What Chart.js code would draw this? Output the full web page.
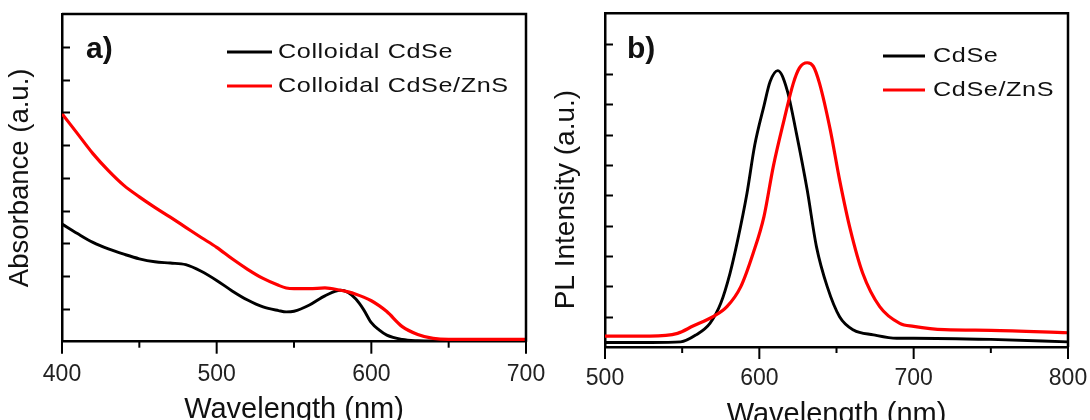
<!DOCTYPE html>
<html>
<head>
<meta charset="utf-8">
<script src="https://cdn.jsdelivr.net/npm/chart.js@4.4.1/dist/chart.umd.min.js"></script>
<style>
  body { margin: 0; background: #fff; }
  #wrap { position: relative; width: 1090px; height: 420px; overflow: hidden; }
  canvas { position: absolute; top: 0; }
</style>
</head>
<body>
<div id="wrap">
  <canvas id="graficoA" width="545" height="440" style="left:0"></canvas>
  <canvas id="graficoB" width="545" height="440" style="left:545px"></canvas>
</div>
<script>
// Panel a) absorbancia
var wavelengthA = [400, 410, 420, 430, 440, 450, 460, 470, 480, 490, 500, 510, 520, 530, 540, 545, 550, 560, 570, 580, 585, 590, 595, 600, 605, 610, 620, 630, 640, 650, 700];
var absCdSe =     [3.59, 3.30, 3.03, 2.83, 2.67, 2.53, 2.44, 2.40, 2.35, 2.15, 1.87, 1.55, 1.27, 1.06, 0.95, 0.91, 0.93, 1.12, 1.40, 1.57, 1.50, 1.30, 0.98, 0.58, 0.36, 0.20, 0.07, 0.03, 0.02, 0.02, 0.02];
var absCdSeZnS =  [6.96, 6.35, 5.74, 5.22, 4.77, 4.42, 4.10, 3.80, 3.49, 3.18, 2.88, 2.53, 2.21, 1.93, 1.72, 1.64, 1.62, 1.62, 1.64, 1.57, 1.52, 1.45, 1.36, 1.25, 1.10, 0.92, 0.46, 0.22, 0.10, 0.07, 0.07];

// Panel b) fotoluminiscencia
var wavelengthPL1 = [500, 530, 549, 559, 568, 575, 581, 586, 592, 597, 603, 607, 612, 618, 624, 631, 637, 644, 652, 661, 674, 689, 700, 750, 800];
var plCdSe =        [0.15, 0.15, 0.17, 0.40, 0.78, 1.44, 2.43, 3.53, 5.07, 6.65, 7.95, 8.75, 9.11, 8.47, 7.05, 5.18, 3.31, 1.99, 1.00, 0.56, 0.40, 0.29, 0.29, 0.25, 0.17];
var wavelengthPL2 = [500, 529, 547, 557, 570, 579, 588, 596, 603, 609, 616, 622, 626, 631, 635, 639, 646, 652, 659, 667, 678, 691, 700, 720, 750, 800];
var plCdSeZnS =     [0.36, 0.36, 0.45, 0.69, 1.00, 1.33, 1.99, 3.09, 4.30, 5.94, 7.48, 8.69, 9.20, 9.37, 9.25, 8.69, 7.15, 5.51, 3.86, 2.43, 1.33, 0.78, 0.68, 0.57, 0.55, 0.47];

var xTicksA = [400, 500, 600, 700];
var xTicksB = [500, 600, 700, 800];

var FUENTE = "'Liberation Sans', Arial, sans-serif";

function puntos(xs, ys) {
    return xs.map(function(x, i) { return { x: x, y: ys[i] }; });
}

// Dibuja marco, marcas de los ejes, etiqueta del panel y leyenda
function pluginPanel(info) {
    return {
        id: 'panel',
        afterDraw: function(chart) {
            var ctx = chart.ctx;
            var area = chart.chartArea;
            var sx = chart.scales.x, sy = chart.scales.y;
            ctx.save();
            ctx.strokeStyle = '#000';
            ctx.lineWidth = 2.5;
            ctx.beginPath();
            ctx.moveTo(area.left, area.top);
            ctx.lineTo(area.right, area.top);
            ctx.lineTo(area.right, area.bottom);
            ctx.stroke();

            // marcas hacia dentro en el eje y
            ctx.lineWidth = 2;
            for (var v = sy.min + 1; v < sy.max; v++) {
                var py = Math.round(sy.getPixelForValue(v)) + 0.5;
                ctx.beginPath();
                ctx.moveTo(area.left, py);
                ctx.lineTo(area.left + 8, py);
                ctx.stroke();
            }
            // marcas hacia fuera en el eje x (mayores y menores)
            for (var w = sx.min; w <= sx.max; w += 50) {
                var px = sx.getPixelForValue(w);
                var largo = (w % 100 === 0) ? 12 : 6;
                ctx.beginPath();
                ctx.moveTo(px, area.bottom);
                ctx.lineTo(px, area.bottom + largo);
                ctx.stroke();
            }

            // etiqueta a) / b)
            ctx.fillStyle = '#111';
            ctx.font = 'bold 30px ' + FUENTE;
            ctx.textBaseline = 'alphabetic';
            ctx.fillText(info.tag, info.tagX, 58);

            // leyenda
            info.leyenda.forEach(function(item, i) {
                var y = info.legY + i * 34;
                ctx.strokeStyle = item.color;
                ctx.lineWidth = 3;
                ctx.beginPath();
                ctx.moveTo(info.legX1, y);
                ctx.lineTo(info.legX2, y);
                ctx.stroke();
                ctx.save();
                ctx.translate(info.textX, y);
                ctx.scale(1.2, 1);
                ctx.font = '21px ' + FUENTE;
                if ('letterSpacing' in ctx) ctx.letterSpacing = '0.5px';
                ctx.fillStyle = '#111';
                ctx.textBaseline = 'middle';
                ctx.fillText(item.label, 0, 0);
                ctx.restore();
            });
            ctx.restore();
        }
    };
}

function crearGrafico(canvasID, cfg) {
    var ctx = document.getElementById(canvasID).getContext('2d');
    return new Chart(ctx, {
        type: 'line',
        data: { datasets: cfg.datasets },
        options: {
            responsive: false,
            devicePixelRatio: 1,
            animation: false,
            layout: { padding: { top: cfg.padTop, right: cfg.padRight, left: 0, bottom: 0 } },
            elements: { point: { radius: 0 } },
            plugins: { legend: { display: false }, tooltip: { enabled: false } },
            scales: {
                x: {
                    type: 'linear',
                    min: cfg.xMin, max: cfg.xMax,
                    afterBuildTicks: function(s) {
                        s.ticks = cfg.xTicks.map(function(v) { return { value: v }; });
                    },
                    afterFit: function(s) {
                        s.height = cfg.xHeight;
                        s.paddingLeft = 0;
                        s.paddingRight = 0;
                    },
                    grid: { display: false },
                    border: { color: '#000', width: 2.5 },
                    ticks: {
                        padding: cfg.tickPad,
                        color: '#222',
                        maxRotation: 0,
                        font: { family: FUENTE, size: 23, lineHeight: 1.2 }
                    },
                    title: {
                        display: true,
                        text: 'Wavelength (nm)',
                        color: '#111',
                        font: { family: FUENTE, size: 29, lineHeight: 1.2 },
                        padding: { top: 0, bottom: cfg.xTitlePad }
                    }
                },
                y: {
                    min: 0, max: cfg.yMax,
                    afterFit: function(s) {
                        s.width = cfg.yWidth;
                        s.paddingTop = 0;
                        s.paddingBottom = 0;
                    },
                    grid: { display: false },
                    border: { color: '#000', width: 2.5 },
                    ticks: { display: false, stepSize: 1 },
                    title: {
                        display: true,
                        text: cfg.yTitle,
                        color: '#111',
                        font: { family: FUENTE, size: cfg.yTitleSize, lineHeight: 1.2 },
                        padding: { top: 4, bottom: 0 }
                    }
                }
            }
        },
        plugins: [pluginPanel(cfg.panel)]
    });
}

crearGrafico('graficoA', {
    datasets: [
        { label: 'Colloidal CdSe/ZnS', data: puntos(wavelengthA, absCdSeZnS), borderColor: '#ff0000', borderWidth: 3.2, cubicInterpolationMode: 'monotone' },
        { label: 'Colloidal CdSe', data: puntos(wavelengthA, absCdSe), borderColor: '#000000', borderWidth: 2.9, cubicInterpolationMode: 'monotone' }
    ],
    xMin: 400, xMax: 700, xTicks: xTicksA, yMax: 10,
    padTop: 14, padRight: 19, xHeight: 98.3, yWidth: 62,
    tickPad: 11, xTitlePad: 13,
    yTitle: 'Absorbance (a.u.)', yTitleSize: 27.5,
    panel: {
        tag: 'a)', tagX: 86,
        legX1: 227, legX2: 272, textX: 278, legY: 52,
        leyenda: [{ label: 'Colloidal CdSe', color: '#000' }, { label: 'Colloidal CdSe/ZnS', color: '#ff0000' }]
    }
});

crearGrafico('graficoB', {
    datasets: [
        { label: 'CdSe/ZnS', data: puntos(wavelengthPL2, plCdSeZnS), borderColor: '#ff0000', borderWidth: 3.2, cubicInterpolationMode: 'monotone' },
        { label: 'CdSe', data: puntos(wavelengthPL1, plCdSe), borderColor: '#000000', borderWidth: 2.9, cubicInterpolationMode: 'monotone' }
    ],
    xMin: 500, xMax: 800, xTicks: xTicksB, yMax: 11,
    padTop: 13.3, padRight: 22, xHeight: 93, yWidth: 60,
    tickPad: 10, xTitlePad: 8,
    yTitle: 'PL Intensity (a.u.)     ', yTitleSize: 28,
    panel: {
        tag: 'b)', tagX: 82,
        legX1: 338, legX2: 380, textX: 388, legY: 56,
        leyenda: [{ label: 'CdSe', color: '#000' }, { label: 'CdSe/ZnS', color: '#ff0000' }]
    }
});
</script>
</body>
</html>
